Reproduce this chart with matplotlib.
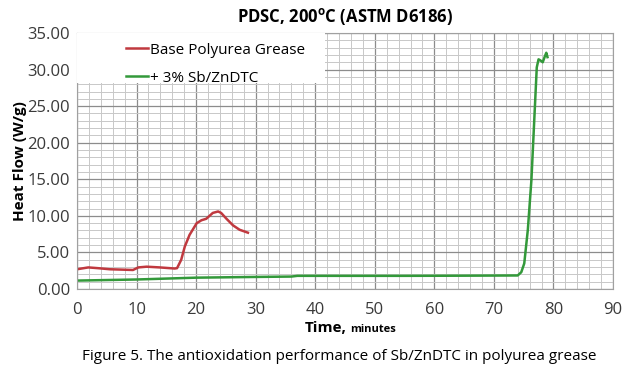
import numpy as np
import matplotlib.pyplot as plt
from matplotlib.patches import Rectangle
from matplotlib.ticker import MultipleLocator, FormatStrFormatter

# values
base_t = [0, 1.9, 3.5, 5.5, 7.5, 9.4, 10.3, 11.7, 13.9, 16.4, 16.8, 17.5, 18.1, 18.9,
          20.1, 20.9, 21.7, 22.8, 23.7, 24.2, 25.1, 26.2, 27.3, 28.7]
base_hf = [2.7, 2.95, 2.85, 2.7, 2.65, 2.6, 2.95, 3.05, 2.95, 2.8, 2.85, 4.0, 5.8, 7.4,
           9.0, 9.4, 9.6, 10.4, 10.6, 10.4, 9.6, 8.7, 8.1, 7.7]

dtc_t = [0, 10, 20, 30, 36, 37, 45, 55, 65, 74, 74.6, 75.1, 75.7, 76.3, 77.2, 77.5,
         77.9, 78.2, 78.6, 78.8, 79.0]
dtc_hf = [1.15, 1.3, 1.55, 1.65, 1.7, 1.8, 1.8, 1.8, 1.82, 1.85, 2.3, 3.5, 8.1, 14.9,
          30.3, 31.4, 31.2, 31.0, 31.9, 32.3, 31.7]

labels = ["Base Polyurea Grease", "+ 3% Sb/ZnDTC"]
colors = ["#C0393F", "#33993A"]

plt.rcParams['font.family'] = ['Open Sans', 'DejaVu Sans']

fig = plt.figure(figsize=(6.32, 3.73), dpi=100)
ax = fig.add_axes([77 / 632, 1 - 289 / 373, 536 / 632, 256 / 373])

ax.plot(base_t, base_hf, color=colors[0], lw=1.8, label=labels[0])
ax.plot(dtc_t, dtc_hf, color=colors[1], lw=1.8, label=labels[1])

ax.set_xlim(0, 90)
ax.set_ylim(0, 35)
ax.xaxis.set_major_locator(MultipleLocator(10))
ax.xaxis.set_minor_locator(MultipleLocator(2))
ax.yaxis.set_major_locator(MultipleLocator(5))
ax.yaxis.set_minor_locator(MultipleLocator(1))
ax.yaxis.set_major_formatter(FormatStrFormatter('%.2f'))
ax.grid(which='major', color='#8c8c8c', lw=0.9)
ax.grid(which='minor', color='#c8c8c8', lw=0.7)
ax.set_axisbelow(True)
for s in ax.spines.values():
    s.set_color('#a0a0a0')
ax.tick_params(which='both', length=0, labelsize=12, colors='#3a3a3a', pad=5)
ax.tick_params(axis='x', pad=9)

ax.set_title("PDSC, 200$^\\mathregular{o}$C (ASTM D6186)", fontsize=12,
             fontweight='bold', pad=8)
ax.set_ylabel("Heat Flow (W/g)", fontsize=11, fontweight='bold', labelpad=0)
fig.text(305 / 632, 1 - 328 / 373, "Time,", fontsize=11, fontweight='bold',
         va='center')
fig.text(350 / 632, 1 - 329 / 373, "minutes", fontsize=8, fontweight='bold',
         va='center')
fig.text(339 / 632, 1 - 356 / 373,
         "Figure 5. The antioxidation performance of Sb/ZnDTC in polyurea grease",
         fontsize=11, ha='center', va='center')

# white legend area covering the grid, as in the reference
ax.add_patch(Rectangle((0, 1 - 50 / 256), 248 / 536, 50 / 256, transform=ax.transAxes,
                       facecolor='white', edgecolor='none', zorder=3))
leg = ax.legend(loc='upper left', bbox_to_anchor=(44 / 536, 1 - 5 / 256), frameon=False,
                fontsize=11, handlelength=1.45, handletextpad=0.15,
                borderaxespad=0.0, borderpad=0.3, labelspacing=0.85)
leg.set_zorder(4)

fig.savefig("out.png", dpi=100)
